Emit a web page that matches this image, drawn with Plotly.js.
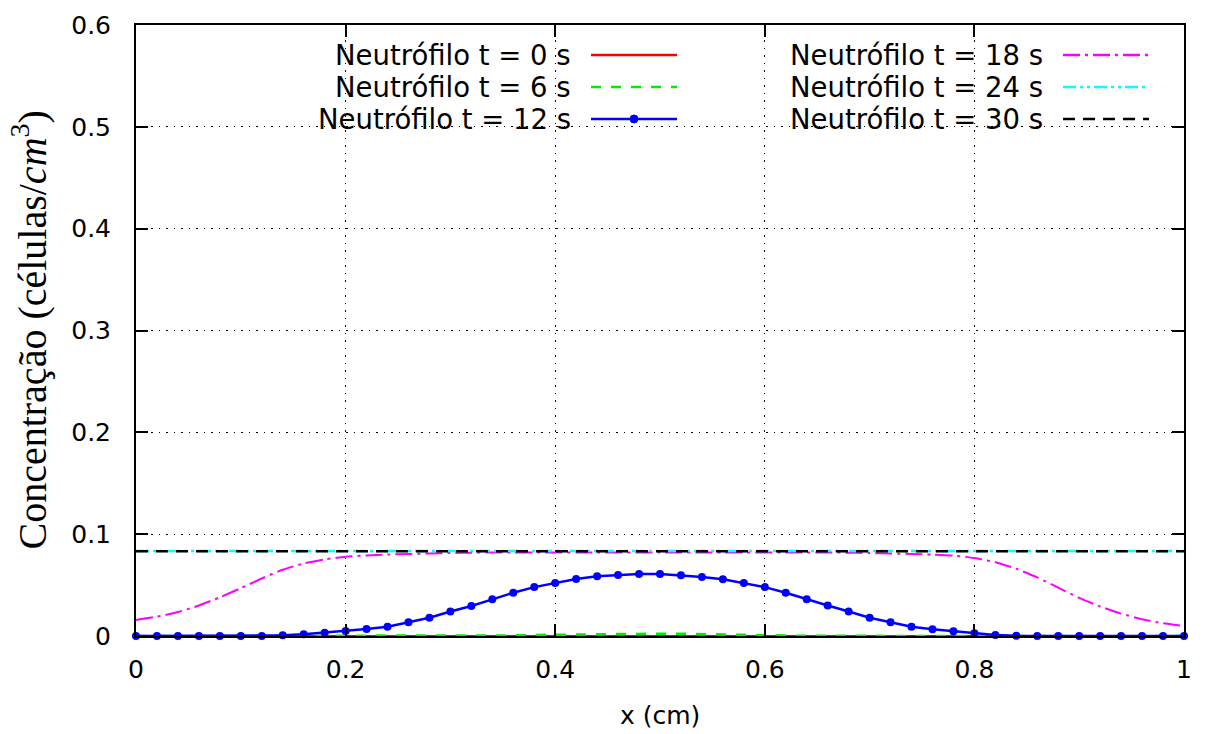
<!DOCTYPE html>
<html>
<head>
<meta charset="utf-8">
<script src="https://cdn.plot.ly/plotly-3.0.1.min.js"></script>
<style>html,body{margin:0;padding:0;background:#fff;}#chart{width:1206px;height:734px;}</style>
</head>
<body>
<div id="chart"></div>
<script>
// x grid (cm)
const xGrid = [0.00,0.02,0.04,0.06,0.08,0.10,0.12,0.14,0.16,0.18,0.20,0.22,0.24,0.26,0.28,0.30,0.32,0.34,0.36,0.38,0.40,0.42,0.44,0.46,0.48,0.50,0.52,0.54,0.56,0.58,0.60,0.62,0.64,0.66,0.68,0.70,0.72,0.74,0.76,0.78,0.80,0.82,0.84,0.86,0.88,0.90,0.92,0.94,0.96,0.98,1.00];

// t = 0 s
const xT0 = [0, 1];
const yT0 = [0, 0];

// t = 6 s
const yT6 = [0,0,0,0,0,0,0,0,0,0,0,0,0,0,0,0,0.0001,0.0003,0.0006,0.001,0.0013,0.0017,0.002,0.0022,0.0023,0.0023,0.0022,0.002,0.0016,0.0012,0.0008,0.0005,0.0002,0.0001,0,0,0,0,0,0,0,0,0,0,0,0,0,0,0,0,0];

// t = 12 s
const yT12 = [0,0,0,0,0,0,0,0.0007,0.0017,0.0033,0.005,0.0068,0.009,0.0135,0.018,0.024,0.0295,0.036,0.0425,0.048,0.052,0.056,0.0587,0.060,0.061,0.061,0.0596,0.058,0.0557,0.052,0.048,0.0425,0.036,0.030,0.024,0.018,0.0135,0.009,0.0066,0.0046,0.0026,0.001,0.0003,0,0,0,0,0,0,0,0];

// t = 18 s
const yT18 = [0.0157,0.019,0.0235,0.030,0.038,0.047,0.0565,0.065,0.0712,0.0752,0.0778,0.079,0.080,0.0805,0.081,0.0815,0.0818,0.082,0.082,0.082,0.082,0.082,0.082,0.082,0.082,0.082,0.082,0.082,0.082,0.082,0.082,0.082,0.082,0.082,0.0818,0.0815,0.081,0.0805,0.080,0.079,0.0765,0.0725,0.066,0.0575,0.0475,0.0375,0.029,0.022,0.0165,0.0125,0.0098];

// t = 24 s
const xT24 = [0, 1];
const yT24 = [0.0834, 0.0834];

// t = 30 s
const xT30 = [0, 1];
const yT30 = [0.0833, 0.0833];

const legendNames = ["Neutrófilo t = 0 s","Neutrófilo t = 6 s","Neutrófilo t = 12 s","Neutrófilo t = 18 s","Neutrófilo t = 24 s","Neutrófilo t = 30 s"];
const colors = ["#ff0000","#00ee00","#0000ff","#ff00ff","#00ffff","#000000"];
const dashes = ["solid","10px,10px","solid","17px,5px,3px,5px","13px,4px,3px,4px,3px,4px","12px,8px"];

const xTicks = [0,0.2,0.4,0.6,0.8,1];
const xTickText = ["0","0.2","0.4","0.6","0.8","1"];
const yTicks = [0,0.1,0.2,0.3,0.4,0.5,0.6];
const yTickText = ["0","0.1","0.2","0.3","0.4","0.5","0.6"];

const traces = [
  {x: xT0, y: yT0, mode:'lines', line:{color:colors[0], width:2, dash:dashes[0]}, name:legendNames[0]},
  {x: xGrid, y: yT6, mode:'lines', line:{color:colors[1], width:2.5, dash:dashes[1]}, name:legendNames[1]},
  {x: xGrid, y: yT12, mode:'lines+markers', line:{color:colors[2], width:2.5, dash:dashes[2]}, marker:{color:colors[2], size:8}, cliponaxis:false, name:legendNames[2]},
  {x: xGrid, y: yT18, mode:'lines', line:{color:colors[3], width:2, dash:dashes[3], shape:'spline', smoothing:0.6}, name:legendNames[3]},
  {x: xT24, y: yT24, mode:'lines', line:{color:colors[4], width:2.5, dash:dashes[4]}, name:legendNames[4]},
  {x: xT30, y: yT30, mode:'lines', line:{color:colors[5], width:2.5, dash:dashes[5]}, name:legendNames[5]}
];

const L = 136, R = 1184, T = 25, B = 636;
const px2x = p => (p - L) / (R - L);
const px2y = p => (B - p) / (B - T);

const shapes = [];
const annotations = [];
// legend backing box
shapes.push({type:'rect', xref:'paper', yref:'paper', x0:px2x(222), x1:px2x(1163), y0:px2y(137), y1:px2y(27), fillcolor:'#ffffff', line:{width:0}, layer:'between'});
const rowsY = [55, 87, 119];
const cols = [{textRight:573, s0:591, s1:677}, {textRight:1045, s0:1063, s1:1149}];
for (let i = 0; i < 6; i++) {
  const c = cols[Math.floor(i/3)];
  const yy = px2y(rowsY[i%3]);
  annotations.push({xref:'paper', yref:'paper', x:px2x(c.textRight), y:yy, xanchor:'right', yanchor:'middle', text:legendNames[i], showarrow:false, font:{family:'DejaVu Sans', size:27.5, color:'#000'}});
  shapes.push({type:'line', xref:'paper', yref:'paper', x0:px2x(c.s0), x1:px2x(c.s1), y0:yy, y1:yy, line:{color:colors[i], width:2.5, dash:dashes[i]}, layer:'between'});
  if (i === 2) {
    const cx = px2x((c.s0 + c.s1)/2);
    shapes.push({type:'circle', xref:'paper', yref:'paper', xsizemode:'pixel', ysizemode:'pixel', xanchor:cx, yanchor:yy, x0:-4, x1:4, y0:-4, y1:4, fillcolor:colors[2], line:{color:colors[2], width:1}, layer:'between'});
  }
}
// axis titles
annotations.push({xref:'paper', yref:'paper', x:px2x(30), y:0.5, xanchor:'center', yanchor:'middle', textangle:-90, showarrow:false, text:'Concentração (células/<i>cm</i><sup>3</sup>)', font:{family:'Liberation Serif', size:40, color:'#000'}});
annotations.push({xref:'paper', yref:'paper', x:0.5, y:px2y(715), xanchor:'center', yanchor:'middle', showarrow:false, text:'x (cm)', font:{family:'DejaVu Sans', size:25, color:'#000'}});

const axisCommon = {
  showline:true, linecolor:'#000', linewidth:2, mirror:'ticks',
  ticks:'inside', ticklen:12, tickwidth:2, tickcolor:'#000',
  showgrid:true, gridcolor:'#000', gridwidth:1.3, griddash:'1.5px,6px',
  zeroline:false, tickfont:{family:'DejaVu Sans', size:25, color:'#000'},
  layer:'above traces'
};

const layout = {
  width:1206, height:734,
  margin:{l:L, r:1206-R, t:T, b:734-B},
  paper_bgcolor:'#fff', plot_bgcolor:'#fff',
  showlegend:false,
  xaxis: Object.assign({}, axisCommon, {range:[0,1], tickvals:xTicks, ticktext:xTickText, ticklabelstandoff:10}),
  yaxis: Object.assign({}, axisCommon, {range:[0,0.6], tickvals:yTicks, ticktext:yTickText, ticklabelstandoff:18}),
  shapes: shapes,
  annotations: annotations
};

Plotly.newPlot('chart', traces, layout, {staticPlot:true, displayModeBar:false});
</script>
</body>
</html>
